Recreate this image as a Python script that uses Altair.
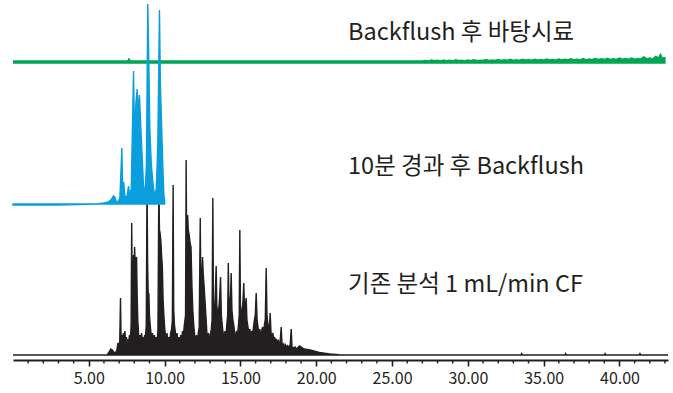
import altair as alt
import pandas as pd

# Retention time axis (minutes)
x_max = 43.2
major_ticks = [5, 10, 15, 20, 25, 30, 35, 40]
minor_ticks = [m for m in range(1, 44) if m % 5 != 0]

# Vertical offsets of the three stacked chromatograms
black_offset = 5
blue_offset = 156
green_offset = 298

# Conventional run, 1 mL/min constant flow (time, response above its baseline)
black_t = [0.0, 6.2, 6.3, 6.45, 6.55, 6.65, 6.75, 6.85, 6.92, 6.98, 7.04, 7.09, 7.13,
           7.18, 7.23, 7.28, 7.33, 7.38, 7.43, 7.48, 7.53, 7.58, 7.63, 7.68, 7.74, 7.79,
           7.83, 7.87, 7.91, 7.95, 7.99, 8.02, 8.06, 8.1, 8.15, 8.19, 8.23, 8.28, 8.33,
           8.38, 8.43, 8.48, 8.53, 8.58, 8.63, 8.68, 8.73, 8.79, 8.84, 8.88, 8.92, 8.96,
           9.0, 9.05, 9.1, 9.15, 9.2, 9.26, 9.32, 9.38, 9.44, 9.5, 9.56, 9.62, 9.66,
           9.7, 9.75, 9.8, 9.85, 9.9, 9.95, 10.0, 10.05, 10.1, 10.16, 10.22, 10.28,
           10.34, 10.4, 10.46, 10.51, 10.56, 10.6, 10.65, 10.7, 10.76, 10.82, 10.88,
           10.94, 11.0, 11.06, 11.12, 11.18, 11.24, 11.3, 11.38, 11.42, 11.46, 11.52,
           11.56, 11.62, 11.68, 11.74, 11.8, 11.86, 11.92, 11.98, 12.04, 12.1, 12.16,
           12.22, 12.28, 12.35, 12.39, 12.44, 12.5, 12.55, 12.6, 12.66, 12.72, 12.78,
           12.84, 12.9, 12.96, 13.02, 13.08, 13.13, 13.18, 13.22, 13.28, 13.34, 13.4,
           13.44, 13.5, 13.56, 13.62, 13.69, 13.74, 13.8, 13.86, 13.92, 13.98, 14.04,
           14.1, 14.16, 14.2, 14.25, 14.3, 14.35, 14.39, 14.44, 14.5, 14.56, 14.62,
           14.68, 14.74, 14.8, 14.86, 14.92, 14.96, 15.0, 15.06, 15.12, 15.17, 15.22,
           15.27, 15.33, 15.38, 15.43, 15.5, 15.56, 15.62, 15.68, 15.74, 15.8, 15.86,
           15.92, 15.98, 16.04, 16.1, 16.16, 16.22, 16.28, 16.34, 16.4, 16.46, 16.52,
           16.58, 16.64, 16.7, 16.75, 16.8, 16.86, 16.92, 16.96, 17.02, 17.08, 17.14,
           17.2, 17.26, 17.32, 17.38, 17.44, 17.5, 17.56, 17.62, 17.69, 17.74, 17.8,
           17.86, 17.92, 17.98, 18.04, 18.1, 18.16, 18.22, 18.28, 18.35, 18.4, 18.5,
           18.6, 18.7, 18.9, 19.2, 19.6, 20.2, 20.9, 21.5, 22.0, 33.5, 33.55, 33.6,
           36.4, 36.45, 36.5, 39.0, 39.05, 39.1, 41.3, 41.35, 41.4, 43.2]
black_v = [0, 0, 2, 6, 5, 3, 2, 5, 12, 8, 14, 57, 15,
           20, 12, 22, 14, 24, 12, 18, 10, 16, 12, 20, 14, 30,
           132, 45, 70, 100, 85, 108, 90, 95, 98, 60, 35, 22, 14,
           20, 12, 22, 14, 18, 12, 20, 16, 30, 175, 90, 60, 62,
           40, 30, 22, 16, 22, 14, 20, 12, 18, 14, 25, 175, 125,
           122, 115, 100, 88, 55, 40, 28, 20, 14, 22, 12, 18,
           14, 22, 26, 35, 170, 45, 30, 24, 16, 22, 12,
           18, 12, 20, 14, 24, 20, 30, 40, 195, 90, 140,
           125, 120, 112, 108, 70, 45, 30, 20, 14, 20, 12,
           22, 28, 137, 60, 75, 98, 80, 70, 55, 40, 24,
           16, 22, 14, 20, 26, 35, 157, 50, 40, 60, 89,
           50, 40, 45, 55, 78, 40, 30, 22, 16, 24, 18,
           30, 40, 92, 45, 50, 60, 82, 45, 35, 30, 22,
           16, 24, 20, 28, 40, 125, 50, 40, 45, 55, 72,
           45, 50, 57, 35, 28, 20, 26, 18, 24, 20, 28,
           35, 40, 62, 35, 28, 20, 26, 18, 24, 28, 22,
           30, 36, 87, 40, 32, 28, 30, 42, 22, 18, 22,
           14, 18, 12, 16, 12, 14, 10, 14, 28, 12, 9,
           11, 8, 10, 7, 9, 7, 9, 10, 26, 8, 7,
           8, 6, 9, 6, 5, 2.5, 1, 0.3, 0, 0, 1.5, 0,
           0, 1.5, 0, 0, 1.5, 0, 0, 1.5, 0, 0]

# Backflush after 10 minutes
blue_t = [0.0, 3.0, 5.5, 6.0, 6.3, 6.5, 6.62, 6.72, 6.82, 6.95, 7.05, 7.18, 7.24, 7.3,
          7.38, 7.5, 7.62, 7.7, 7.8, 7.95, 8.02, 8.1, 8.19, 8.26, 8.34, 8.42, 8.5,
          8.6, 8.7, 8.8, 8.89, 8.95, 9.02, 9.12, 9.25, 9.35, 9.45, 9.55, 9.66, 9.72,
          9.8, 9.88, 9.95, 10.0]
blue_v = [-1, -1, 0, 1, 2, 5, 8, 7, 2, 3, 6, 56, 10, 22,
          8, 6, 18, 8, 15, 133, 60, 100, 115, 90, 109, 80, 54,
          20, 6, 40, 200, 150, 77, 40, 18, 8, 15, 60, 194, 120,
          80, 38, 10, 3]

# Blank run after backflush: flat baseline, noise growing late in the run
green_t = [0.0, 7.6, 7.65, 7.7, 27.0, 27.2, 27.4, 27.6, 27.8, 28.0, 28.2, 28.4, 28.6,
           28.8, 29.0, 29.2, 29.4, 29.6, 29.8, 30.0, 30.2, 30.4, 30.6, 30.8, 31.0, 31.2,
           31.4, 31.6, 31.8, 32.0, 32.2, 32.4, 32.6, 32.8, 33.0, 33.2, 33.4, 33.6, 33.8,
           34.0, 34.2, 34.4, 34.6, 34.8, 35.0, 35.2, 35.4, 35.6, 35.8, 36.0, 36.2, 36.4,
           36.6, 36.8, 37.0, 37.2, 37.4, 37.6, 37.8, 38.0, 38.2, 38.4, 38.6, 38.8, 39.0,
           39.2, 39.4, 39.6, 39.8, 40.0, 40.2, 40.4, 40.6, 40.8, 41.0, 41.2, 41.4, 41.6,
           41.8, 42.0, 42.2, 42.4, 42.6, 42.7, 42.8, 42.93]
green_v = [0, 0, 1.2, 0, 0, 0.5, 0, 1.0, 0.3, 0.8, 0, 1.0, 0.2,
           0.7, 0, 1.2, 0.3, 0.8, 0.2, 1.0, 0.4, 1.3, 0.3, 0.9, 0.5, 1.4,
           0.4, 1.0, 0.6, 1.5, 0.5, 1.2, 0.6, 1.6, 0.7, 1.3, 0.6, 1.7, 0.8,
           1.4, 0.7, 1.8, 0.8, 1.5, 0.9, 2.0, 1.0, 1.6, 0.9, 2.0, 1.0, 1.8,
           1.1, 2.2, 1.2, 1.8, 1.0, 2.3, 1.2, 2.0, 1.3, 2.5, 1.3, 2.2, 1.4,
           2.6, 1.5, 2.3, 1.5, 2.8, 1.6, 2.4, 1.6, 3.0, 1.7, 2.6, 1.8, 4.0,
           2.0, 3.0, 2.0, 4.5, 2.5, 5.5, 2.5, 3.0]

# Trace labels
label_text = ["Backflush 후 바탕시료", "10분 경과 후 Backflush", "기존 분석 1 mL/min CF"]
label_time = [22.1, 22.1, 22.1]
label_level = [320.5, 186.5, 68.5]

black_color = "#231f20"
blue_color = "#0a9fdc"
green_color = "#00a651"
font_main = "Liberation Sans Narrow, Noto Sans CJK KR, sans-serif"


def trace_frame(times, values, offset):
    return pd.DataFrame({
        "t": times,
        "level": [offset + v for v in values],
        "base": [offset] * len(times),
    })


black_df = trace_frame(black_t, black_v, black_offset)
blue_df = trace_frame(blue_t, blue_v, blue_offset)
green_df = trace_frame(green_t, green_v, green_offset)
labels_df = pd.DataFrame({"t": label_time, "level": label_level, "text": label_text})
minor_df = pd.DataFrame({"t": minor_ticks})

x_scale = alt.Scale(domain=[0, x_max], nice=False, zero=False)
y_scale = alt.Scale(domain=[0, 360], nice=False, zero=False)

x_axis = alt.Axis(
    values=major_ticks, format=".2f", title=None, grid=False,
    domainColor=black_color, domainWidth=2.2, tickColor=black_color,
    tickWidth=1.6, tickSize=6, labelFont=font_main, labelFontSize=16,
    labelColor=black_color, labelPadding=4,
)

# Every layer shares the same x encoding so the axis definition stays intact
x_enc = alt.X("t:Q", scale=x_scale, axis=x_axis)
y_enc = alt.Y("level:Q", scale=y_scale, axis=None)


def trace_area(df, color, stroke_width):
    return alt.Chart(df).mark_area(
        color=color, stroke=color, strokeWidth=stroke_width, strokeJoin="miter"
    ).encode(x=x_enc, y=y_enc, y2="base:Q")


green_trace = trace_area(green_df, green_color, 3.4)
black_trace = trace_area(black_df, black_color, 1.4)
blue_trace = trace_area(blue_df, blue_color, 1.4)

minor_rules = alt.Chart(minor_df).mark_rule(
    color=black_color, strokeWidth=1.4
).encode(
    x=x_enc,
    y=alt.value(360),
    y2=alt.value(363.5),
)

labels = alt.Chart(labels_df).mark_text(
    align="left", baseline="alphabetic", font=font_main, fontSize=23.5,
    color=black_color,
).encode(
    x=x_enc,
    y=y_enc,
    text="text:N",
)

chart = alt.layer(
    green_trace, black_trace, blue_trace, minor_rules, labels
).properties(
    width=655, height=360,
    autosize=alt.AutoSizeParams(type="none"),
    padding={"left": 13, "top": 0, "right": 5, "bottom": 33},
).configure_view(stroke=None)

chart.save("out.html", embed_options={"renderer": "svg", "actions": False})
